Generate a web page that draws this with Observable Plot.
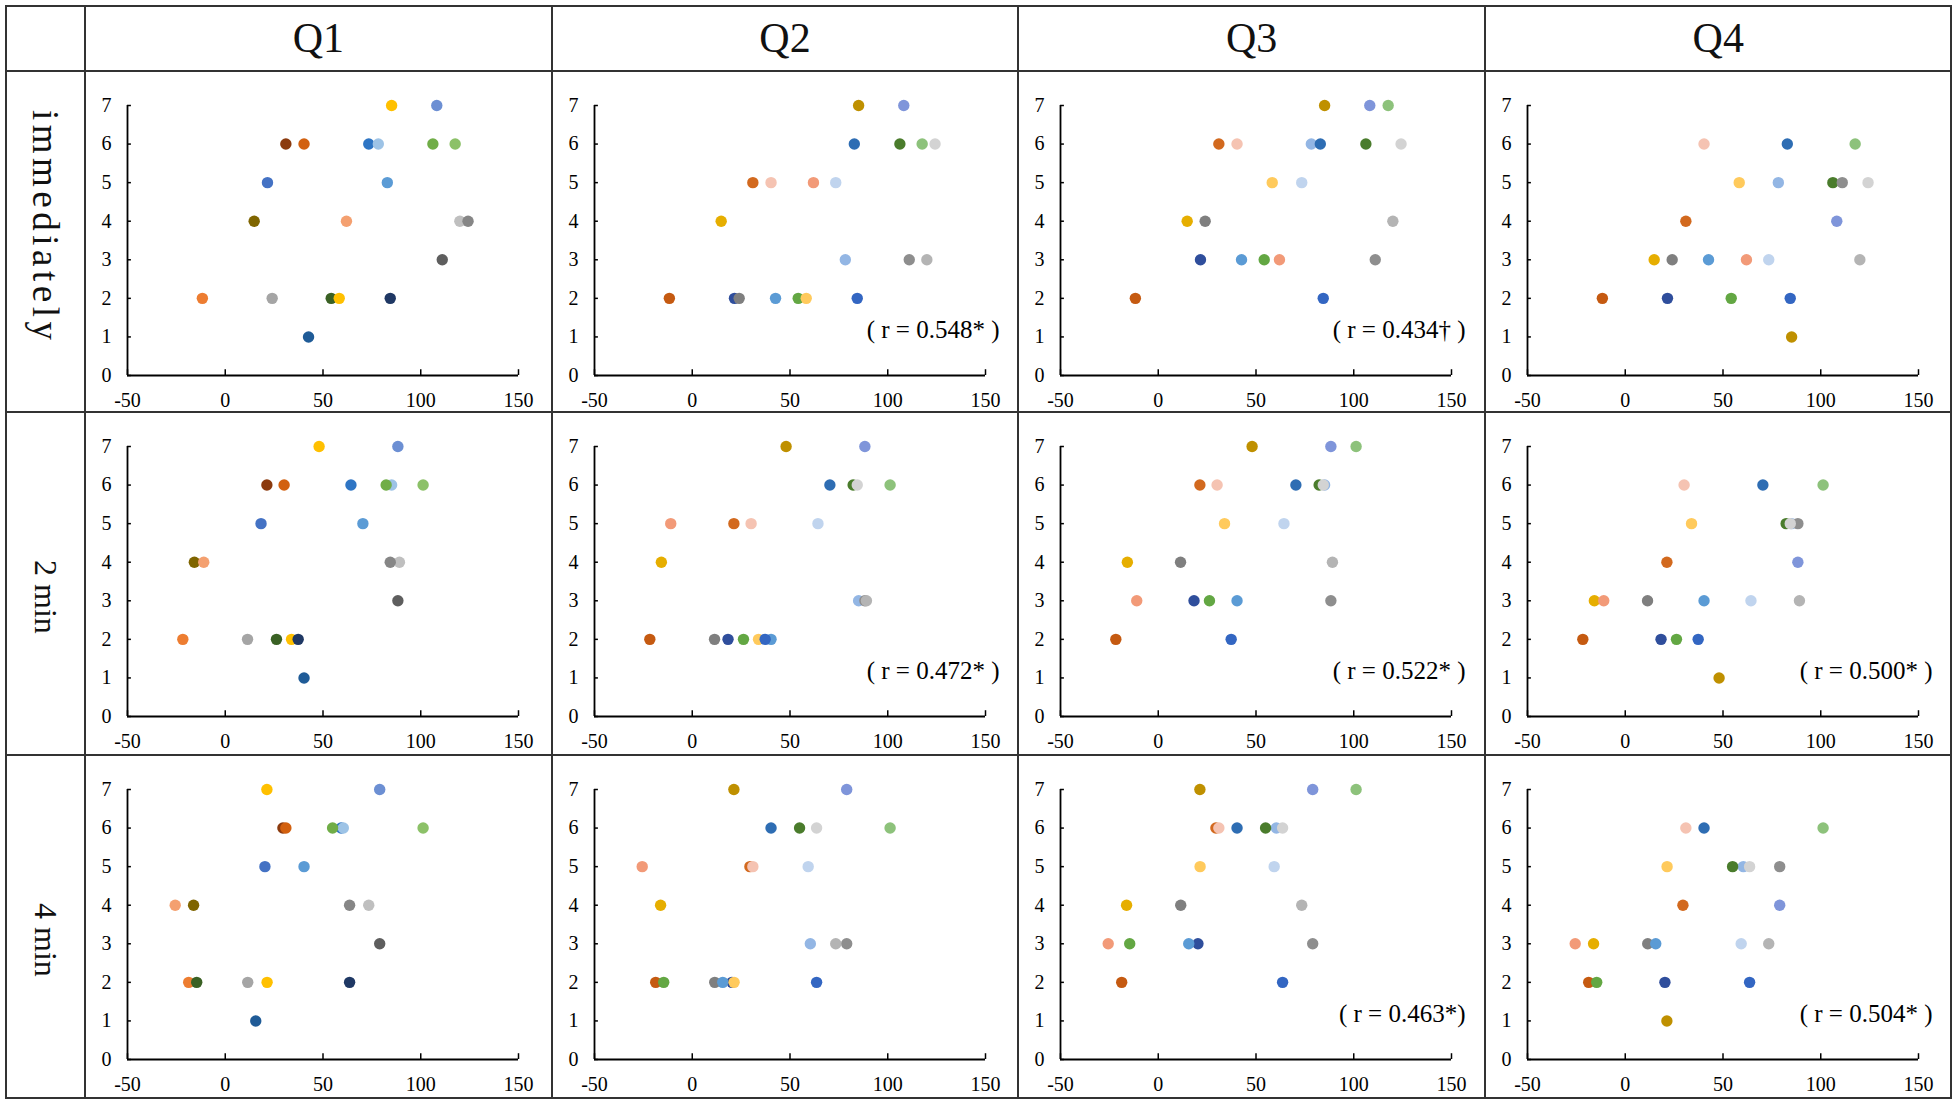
<!DOCTYPE html>
<html><head><meta charset="utf-8">
<script src="https://cdn.jsdelivr.net/npm/d3@7"></script>
<script src="https://cdn.jsdelivr.net/npm/@observablehq/plot@0.6"></script>
<style>
body{margin:0;background:#fff;font-family:"Liberation Serif","Times New Roman",serif;}
#grid{position:absolute;left:5px;top:5px;display:grid;
  grid-template-columns:77.5px 465.5px 464.5px 465.5px 464.5px;
  grid-template-rows:63.5px 339.5px 341.5px 341.5px;
  gap:1.6px;background:#333;padding:1.6px;}
.cell{background:#fff;overflow:hidden;display:flex;align-items:center;justify-content:center;position:relative;}
.cell svg{position:absolute;left:0;top:0;font-family:"Liberation Serif","Times New Roman",serif;}
.head{font-size:42px;color:#111;}
.rowlab{writing-mode:vertical-rl;font-size:32px;color:#111;}
</style></head><body><div id="grid"></div><script>
const questions = ["Q1", "Q2", "Q3", "Q4"];
const times = ["immediately", "2 min", "4 min"];
const xTicks = [-50, 0, 50, 100, 150];
const yTicks = [0, 1, 2, 3, 4, 5, 6, 7];

// x value of each of the 21 subjects, per time point
const xImmediately = [-11.7, 14.8, 21.6, 24.0, 31.0, 40.3, 42.6, 54.2, 58.3, 62.0, 73.4, 78.3, 82.9, 84.4, 85.1, 106.2, 108.2, 111.0, 117.6, 120.0, 124.2];
const x2min = [-21.7, -15.8, 18.3, 11.4, 21.3, 30.1, 40.3, 26.2, 33.9, -11.0, 64.3, 85.1, 70.4, 37.3, 48.0, 82.3, 88.3, 88.3, 101.2, 89.1, 84.4];
const x4min = [-18.7, -16.2, 20.3, 11.5, 29.5, 31.0, 15.6, -14.6, 21.4, -25.6, 59.3, 60.4, 40.3, 63.6, 21.3, 54.9, 79.0, 79.0, 101.2, 73.4, 63.6];

// answer (0-7) of each subject, per question
const yQ1 = [2, 4, 5, 2, 6, 6, 1, 2, 2, 4, 6, 6, 5, 2, 7, 6, 7, 3, 6, 4, 4];
const yQ2 = [2, 4, 2, 2, 5, 5, 2, 2, 2, 5, 5, 3, 6, 2, 7, 6, 7, 3, 6, 3, 6];
const yQ3 = [2, 4, 3, 4, 6, 6, 3, 3, 5, 3, 5, 6, 6, 2, 7, 6, 7, 3, 7, 4, 6];
const yQ4 = [2, 3, 2, 3, 4, 6, 3, 2, 5, 3, 3, 5, 6, 2, 1, 5, 4, 5, 6, 3, 5];

const colorsQ1 = ["#ED7D31","#7F6500","#4472C4","#A5A5A5","#8B3A0E","#D2600F","#1F5B97","#3A6124","#FFC000","#F4A070","#2E75C4","#9DC3E6","#5B9BD5","#1F3864","#FFC000","#70AD47","#6C8FD3","#5E5E5E","#8CC168","#BFBFBF","#868686"];
const colorsQ2to4 = ["#C55A11","#E6AE00","#2F4E9C","#7F7F7F","#D2691E","#F5C3B2","#5B9BD5","#63A743","#FFCA5C","#F29A78","#C0D4EE","#93B6E4","#2E6DB3","#3366C2","#BF9000","#4A7C2C","#7F95DA","#8E8E8E","#8DC27B","#B4B4B4","#D3D3D3"];

const rLabels = [
  [null, "( r = 0.548* )", "( r = 0.434† )", null],
  [null, "( r = 0.472* )", "( r = 0.522* )", "( r = 0.500* )"],
  [null, null, "( r = 0.463*)", "( r = 0.504* )"]
];

const xByTime = [xImmediately, x2min, x4min];
const yByQuestion = [yQ1, yQ2, yQ3, yQ4];
const colorsByQuestion = [colorsQ1, colorsQ2to4, colorsQ2to4, colorsQ2to4];

const colWidths = [465.5, 464.5, 465.5, 464.5];
const rowHeights = [339.5, 341.5, 341.5];
const serif = "Liberation Serif";

const grid = document.getElementById("grid");
function addCell(cls, text) {
  const d = document.createElement("div");
  d.className = "cell " + (cls || "");
  if (text) d.textContent = text;
  grid.appendChild(d);
  return d;
}
addCell("", "");
questions.forEach(q => addCell("head", q));

times.forEach((t, ti) => {
  const lab = addCell("", "");
  const s = document.createElement("span");
  s.className = "rowlab";
  s.textContent = t;
  if (t === "immediately") {
    s.style.fontSize = "37px";
    s.style.letterSpacing = "4.5px";
    s.style.transform = "translateY(-14px)";
  } else {
    s.style.transform = "translateY(13px)";
  }
  lab.appendChild(s);
  questions.forEach((q, qi) => {
    const cell = addCell("", "");
    const w = colWidths[qi], h = rowHeights[ti];
    const data = xByTime[ti].map((x, i) => ({x, y: yByQuestion[qi][i], c: colorsByQuestion[qi][i]}));
    const marks = [
      Plot.axisX({ticks: xTicks, tickSize: 0, tickPadding: 17, tickFormat: d => String(d), label: null, fontFamily: serif, fontSize: 20, fill: "#000"}),
      Plot.axisY({ticks: yTicks, tickSize: 0, tickPadding: 16, tickFormat: d => String(d), label: null, fontFamily: serif, fontSize: 20, fill: "#000"}),
      Plot.ruleX(xTicks, {x: d => d, y1: 0, y2: 0.15, stroke: "#000", strokeWidth: 1.5}),
      Plot.ruleY(yTicks, {y: d => d, x1: -50, x2: -48, stroke: "#000", strokeWidth: 1.5}),
      Plot.ruleY([0], {stroke: "#000", strokeWidth: 1.8}),
      Plot.ruleX([-50], {stroke: "#000", strokeWidth: 1.8}),
      Plot.dot(data, {x: "x", y: "y", r: 5.7, fill: "c", stroke: null})
    ];
    const lbl = rLabels[ti][qi];
    if (lbl) marks.push(Plot.text([lbl], {text: d => d, frameAnchor: "bottom-right", textAnchor: "end", dx: 14, dy: -38, fontSize: 25, fontFamily: serif, fill: "#000"}));
    const chart = Plot.plot({
      width: w, height: h,
      marginLeft: 41, marginRight: w - 432, marginTop: 33, marginBottom: h - 303,
      x: {domain: [-50, 150]},
      y: {domain: [0, 7]},
      color: {type: "identity"},
      style: {fontFamily: serif, fontSize: "20px", color: "#000", background: "transparent", overflow: "visible"},
      marks
    });
    cell.appendChild(chart);
  });
});
</script></body></html>
